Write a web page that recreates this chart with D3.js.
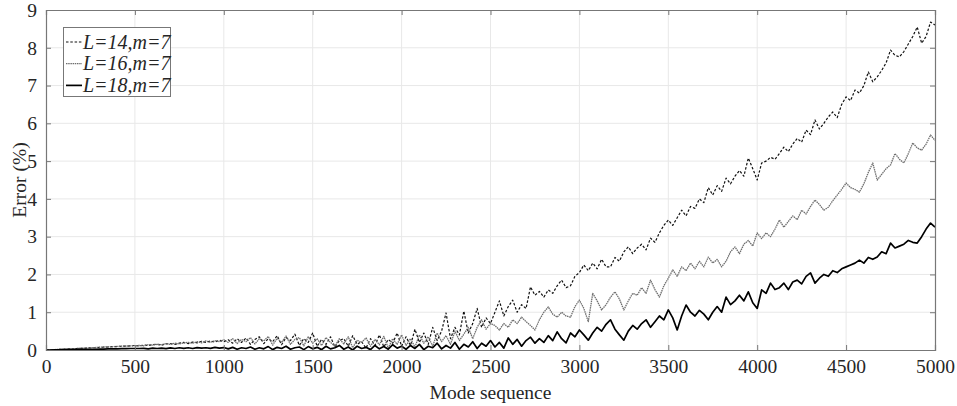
<!DOCTYPE html>
<html><head><meta charset="utf-8">
<script src="https://cdn.jsdelivr.net/npm/d3@7"></script>
<style>body{margin:0;background:#fff}svg{display:block}text{font-family:"Liberation Serif","Times New Roman",serif}</style>
</head><body><svg id="c" width="957" height="406"></svg>
<script>
// Mode sequence step (values sampled every 25 modes, 0..5000)
const modeStep = 25;
const xTicks = [0,500,1000,1500,2000,2500,3000,3500,4000,4500,5000];
const yTicks = [0,1,2,3,4,5,6,7,8,9];
const seriesNames = ["L=14,m=7","L=16,m=7","L=18,m=7"];

const errL14 = [
 0,0.005,0.01,0.015,0.02,0.03,0.03,0.04,0.045,0.05,0.06,0.06,0.07,0.075,0.08,0.09,0.09,0.1,0.1,0.11,0.12,
 0.11,0.13,0.12,0.14,0.15,0.13,0.16,0.17,0.15,0.18,0.2,0.17,0.21,0.19,0.23,0.2,0.24,0.21,0.26,0.22,
 0.27,0.18,0.3,0.2,0.32,0.15,0.28,0.35,0.17,0.3,0.22,0.38,0.14,0.33,0.25,0.42,0.12,0.3,0.2,0.45,
 0.1,0.28,0.15,0.35,0.08,0.25,0.3,0.1,0.38,0.15,0.22,0.05,0.3,0.12,0.4,0.08,0.28,0.18,0.45,0.1,
 0.35,0.12,0.55,0.2,0.45,0.15,0.6,0.25,0.5,0.98,0.3,0.6,0.4,1.03,0.45,0.7,1.1,0.6,0.85,0.7,
 1.0,1.3,0.9,1.15,1.32,1.0,1.2,1.1,1.67,1.45,1.55,1.4,1.59,1.5,1.7,1.85,1.65,1.7,1.95,2.05,
 2.25,2.1,2.3,2.15,2.4,2.2,2.2,2.45,2.35,2.6,2.73,2.55,2.7,2.8,2.65,2.96,2.85,3.1,3.3,3.44,
 3.3,3.5,3.7,3.55,3.8,3.75,4.0,3.9,4.3,4.1,4.35,4.2,4.55,4.4,4.6,4.75,4.6,5.08,4.8,4.5,
 4.95,5.0,5.1,5.05,5.2,5.37,5.25,5.45,5.6,5.5,5.82,5.7,6.09,5.85,6.0,6.17,6.3,6.15,6.5,6.7,
 6.6,6.88,6.8,7.0,7.36,7.1,7.23,7.4,7.6,7.94,7.8,7.76,7.9,8.1,8.3,8.55,8.12,8.3,8.68,8.6
];
const errL16 = [
 0,0.005,0.01,0.02,0.02,0.025,0.035,0.04,0.05,0.05,0.06,0.065,0.07,0.08,0.085,0.09,0.095,0.1,0.105,0.11,0.115,
 0.12,0.11,0.14,0.13,0.15,0.14,0.17,0.15,0.18,0.16,0.19,0.2,0.18,0.22,0.19,0.24,0.2,0.25,0.22,0.27,
 0.2,0.3,0.17,0.28,0.22,0.33,0.16,0.3,0.24,0.36,0.13,0.31,0.2,0.37,0.15,0.28,0.33,0.11,0.35,0.18,
 0.3,0.12,0.33,0.2,0.1,0.3,0.16,0.35,0.06,0.26,0.2,0.32,0.1,0.28,0.14,0.36,0.05,0.3,0.15,0.4,
 0.12,0.3,0.08,0.4,0.18,0.35,0.1,0.45,0.22,0.38,0.15,0.5,0.25,0.42,0.6,0.3,0.6,0.8,0.55,0.7,
 0.65,0.53,0.7,0.6,0.8,0.7,0.87,0.75,0.65,0.53,0.8,1.0,1.14,0.95,0.87,1.0,0.9,0.87,1.15,1.32,
 1.1,0.75,1.5,1.3,1.06,1.2,1.4,1.54,1.35,1.06,1.3,1.5,1.45,1.65,1.5,1.85,1.6,1.4,1.7,1.9,
 2.12,1.95,2.2,2.1,2.3,2.15,2.35,2.2,2.46,2.3,2.4,2.2,2.35,2.6,2.73,2.55,2.8,2.9,2.75,3.1,
 2.95,3.1,3.0,3.2,3.44,3.25,3.4,3.55,3.45,3.7,3.6,3.8,3.97,3.85,3.7,3.78,3.95,4.1,4.25,4.42,
 4.3,4.25,4.18,4.4,4.7,4.95,4.5,4.65,4.8,4.9,5.2,5.05,4.95,5.2,5.48,5.35,5.29,5.45,5.69,5.55
];
const errL18 = [
 0,0,0.005,0.005,0.01,0.01,0.01,0.015,0.015,0.02,0.02,0.02,0.025,0.025,0.03,0.03,0.03,0.035,0.035,0.04,0.04,
 0.04,0.045,0.03,0.05,0.04,0.05,0.035,0.055,0.04,0.06,0.045,0.06,0.04,0.065,0.05,0.06,0.045,0.07,0.05,0.065,
 0.03,0.07,0.02,0.06,0.04,0.08,0.02,0.06,0.03,0.09,0.01,0.07,0.04,0.1,0.02,0.06,0.08,0.01,0.09,0.03,
 0.07,0.01,0.1,0.03,0.06,0.12,0.02,0.08,0.0,0.1,0.04,0.07,0.01,0.12,0.03,0.09,0.02,0.14,0.05,0.1,
 0.02,0.12,0.04,0.15,0.01,0.1,0.06,0.18,0.03,0.12,0.05,0.2,0.02,0.15,0.08,0.22,0.04,0.18,0.1,0.25,
 0.08,0.2,0.05,0.32,0.15,0.28,0.1,0.25,0.34,0.18,0.3,0.2,0.38,0.25,0.48,0.3,0.19,0.45,0.35,0.53,
 0.4,0.26,0.45,0.6,0.5,0.68,0.8,0.55,0.4,0.26,0.5,0.65,0.55,0.7,0.8,0.6,0.75,0.9,0.8,1.06,
 0.85,0.53,0.9,1.19,1.0,0.9,1.05,0.95,0.8,1.0,1.15,1.0,1.4,1.2,1.3,1.45,1.3,1.54,1.25,1.1,
 1.59,1.5,1.77,1.6,1.65,1.77,1.6,1.8,1.85,1.75,1.95,2.04,1.77,1.9,2.0,1.95,2.1,2.05,2.15,2.2,
 2.25,2.3,2.38,2.3,2.45,2.4,2.46,2.6,2.55,2.83,2.7,2.75,2.8,2.9,2.85,2.83,3.0,3.2,3.36,3.25
];

const svg = d3.select("#c");
const m = {l:46, r:935, t:10, b:350};
const x = d3.scaleLinear().domain([0,5000]).range([m.l,m.r]);
const y = d3.scaleLinear().domain([0,9]).range([m.b,m.t]);
const axisCol = "#777";

// grid
const g = svg.append("g");
g.selectAll(".gx").data(xTicks.slice(1,-1)).join("line")
 .attr("x1",d=>x(d)).attr("x2",d=>x(d)).attr("y1",m.t).attr("y2",m.b)
 .attr("stroke","#e8e8e8").attr("stroke-width",1);
g.selectAll(".gy").data(yTicks.slice(1,-1)).join("line")
 .attr("y1",d=>y(d)).attr("y2",d=>y(d)).attr("x1",m.l).attr("x2",m.r)
 .attr("stroke","#e8e8e8").attr("stroke-width",1);

// lines
const line = d3.line().x((d,i)=>x(i*modeStep)).y(d=>y(d));
const styles = [
 {data:errL14, stroke:"#111", w:1.2, dash:"2.5,1.8"},
 {data:errL16, stroke:"#6e6e6e", w:1.3, dash:"1.5,0.7"},
 {data:errL18, stroke:"#000", w:1.7, dash:null}
];
styles.forEach(s=>{
 svg.append("path").attr("d",line(s.data)).attr("fill","none")
  .attr("stroke",s.stroke).attr("stroke-width",s.w)
  .attr("stroke-dasharray",s.dash).attr("stroke-linejoin","round");
});

// axes (ticks inward, box)
const fs = "19.5px";
const ax = svg.append("g");
ax.append("g").attr("transform",`translate(0,${m.b})`)
 .call(d3.axisBottom(x).tickValues(xTicks).tickSize(-5).tickPadding(9).tickFormat(d3.format("d")));
ax.append("g").attr("transform",`translate(0,${m.t})`)
 .call(d3.axisTop(x).tickValues(xTicks).tickSize(-5).tickFormat(""));
ax.append("g").attr("transform",`translate(${m.l},0)`)
 .call(d3.axisLeft(y).tickValues(yTicks).tickSize(-5).tickPadding(9).tickFormat(d3.format("d")));
ax.append("g").attr("transform",`translate(${m.r},0)`)
 .call(d3.axisRight(y).tickValues(yTicks).tickSize(-5).tickFormat(""));
ax.selectAll(".domain").attr("stroke",axisCol).attr("stroke-width",1.2);
ax.selectAll(".tick line").attr("stroke",axisCol);
ax.selectAll(".tick text").attr("font-size",fs).attr("fill","#262626")
 .attr("font-family","Liberation Serif, Times New Roman, serif");

// axis labels
svg.append("text").attr("x",(m.l+m.r)/2).attr("y",399).attr("text-anchor","middle")
 .attr("font-size",fs).attr("fill","#262626").text("Mode sequence");
svg.append("text").attr("transform",`translate(26,${(m.t+m.b)/2}) rotate(-90)`)
 .attr("text-anchor","middle").attr("font-size",fs).attr("fill","#262626").text("Error (%)");

// legend
const lg = svg.append("g");
lg.append("rect").attr("x",63.5).attr("y",27.5).attr("width",107).attr("height",69)
 .attr("fill","#fff").attr("stroke",axisCol).attr("stroke-width",1);
seriesNames.forEach((n,i)=>{
 const cy = 42 + i*21.7;
 lg.append("line").attr("x1",66).attr("x2",82).attr("y1",cy).attr("y2",cy)
  .attr("stroke",styles[i].stroke).attr("stroke-width",styles[i].w).attr("stroke-dasharray",styles[i].dash);
 lg.append("text").attr("x",83).attr("y",cy+6.5).attr("font-size","20px").attr("font-style","italic")
  .attr("fill","#262626").text(n);
});
</script></body></html>
